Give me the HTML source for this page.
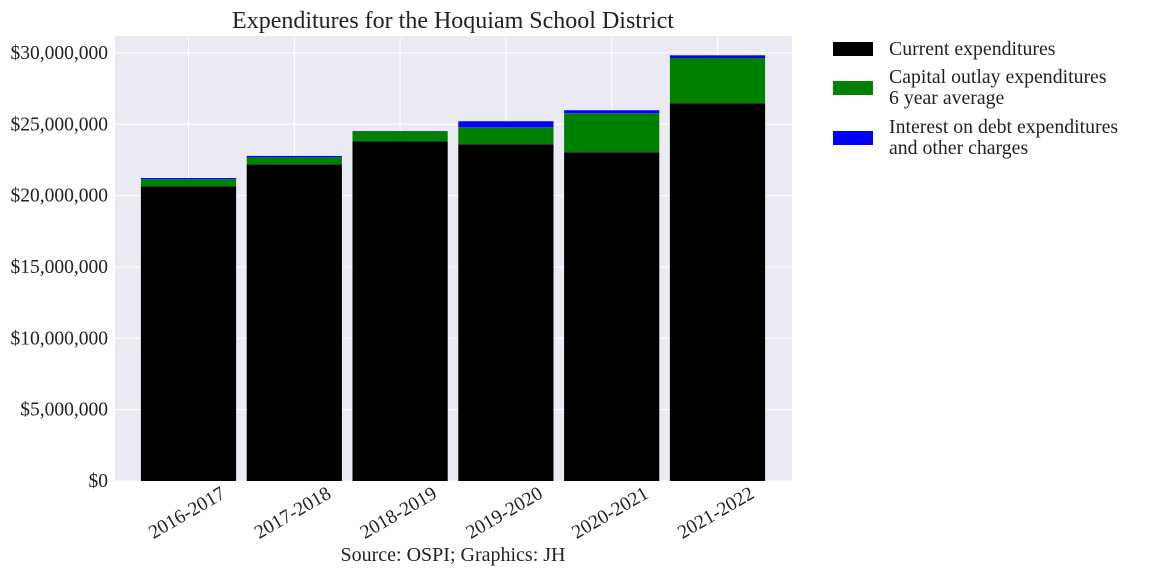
<!DOCTYPE html>
<html><head><meta charset="utf-8"><style>
body{margin:0;background:#fff;}
svg text{font-family:"Liberation Serif",serif;fill:#222;}
</style></head><body>
<svg id="c" width="1152" height="576"></svg>
<script>
const categories=["2016-2017","2017-2018","2018-2019","2019-2020","2020-2021","2021-2022"];
const currentExp=[20.65,22.19,23.81,23.60,23.04,26.47];
const capitalExp=[0.49,0.49,0.70,1.19,2.73,3.17];
const interestExp=[0.09,0.10,0.02,0.42,0.21,0.19];
const yTicks=[0,5,10,15,20,25,30];
const yTickLabels=["$0","$5,000,000","$10,000,000","$15,000,000","$20,000,000","$25,000,000","$30,000,000"];
const NS="http://www.w3.org/2000/svg";
const svg=document.getElementById('c');
const L=115,R=792,T=36,B=481;
const y=v=>B-v*14.27;
const x=i=>188.5+i*105.8;
const bw=95.2;
function mk(t,a,txt){const e=document.createElementNS(NS,t);for(const k in a)e.setAttribute(k,a[k]);if(txt!=null)e.textContent=txt;svg.appendChild(e);return e;}
let bg=mk('rect',{x:L,y:T,width:R-L,height:B-T,fill:'#eaeaf2'});


yTicks.forEach((t,i)=>{
 let g=mk('line',{x1:L,x2:R,y1:y(t),y2:y(t),stroke:'#fff','stroke-width':1});
 
 
 let l=mk('text',{x:L-7,y:y(t)+6,'text-anchor':'end','font-size':19.5},yTickLabels[i]);
 
 
});
categories.forEach((c,i)=>{
 let g=mk('line',{x1:x(i),x2:x(i),y1:T,y2:B,stroke:'#fff','stroke-width':1});
 
 
});
categories.forEach((c,i)=>{
 const a=currentExp[i],b=a+capitalExp[i],d=b+interestExp[i];
 let r1=mk('rect',{x:x(i)-bw/2,y:y(a),width:bw,height:y(0)-y(a),fill:'#000'});
 
 
 let r2=mk('rect',{x:x(i)-bw/2,y:y(b),width:bw,height:y(a)-y(b),fill:'#008000'});
 
 
 let r3=mk('rect',{x:x(i)-bw/2,y:y(d),width:bw,height:y(b)-y(d),fill:'#0000ff'});
 
 
 let lx=x(i)+38,ly=B+16;
 let l=mk('text',{x:lx,y:ly,'text-anchor':'end','font-size':19.5,transform:`rotate(-30 ${lx} ${ly})`},c);
 
 
});
let tt=mk('text',{x:453,y:28,'text-anchor':'middle','font-size':24},'Expenditures for the Hoquiam School District');


let src=mk('text',{x:453,y:561,'text-anchor':'middle','font-size':20},'Source: OSPI; Graphics: JH');


const leg=[["#000",["Current expenditures"],42],["#008000",["Capital outlay expenditures","6 year average"],81],["#0000ff",["Interest on debt expenditures","and other charges"],131]];
leg.forEach(([col,lines,py])=>{
 let p=mk('rect',{x:833,y:py,width:40,height:14,fill:col});
 
 
 lines.forEach((s,j)=>{
  let t=mk('text',{x:889,y:py+(lines.length>1?2:13)+j*21,'font-size':19.8},s);
  
  
 });
});
</script>
</body></html>
